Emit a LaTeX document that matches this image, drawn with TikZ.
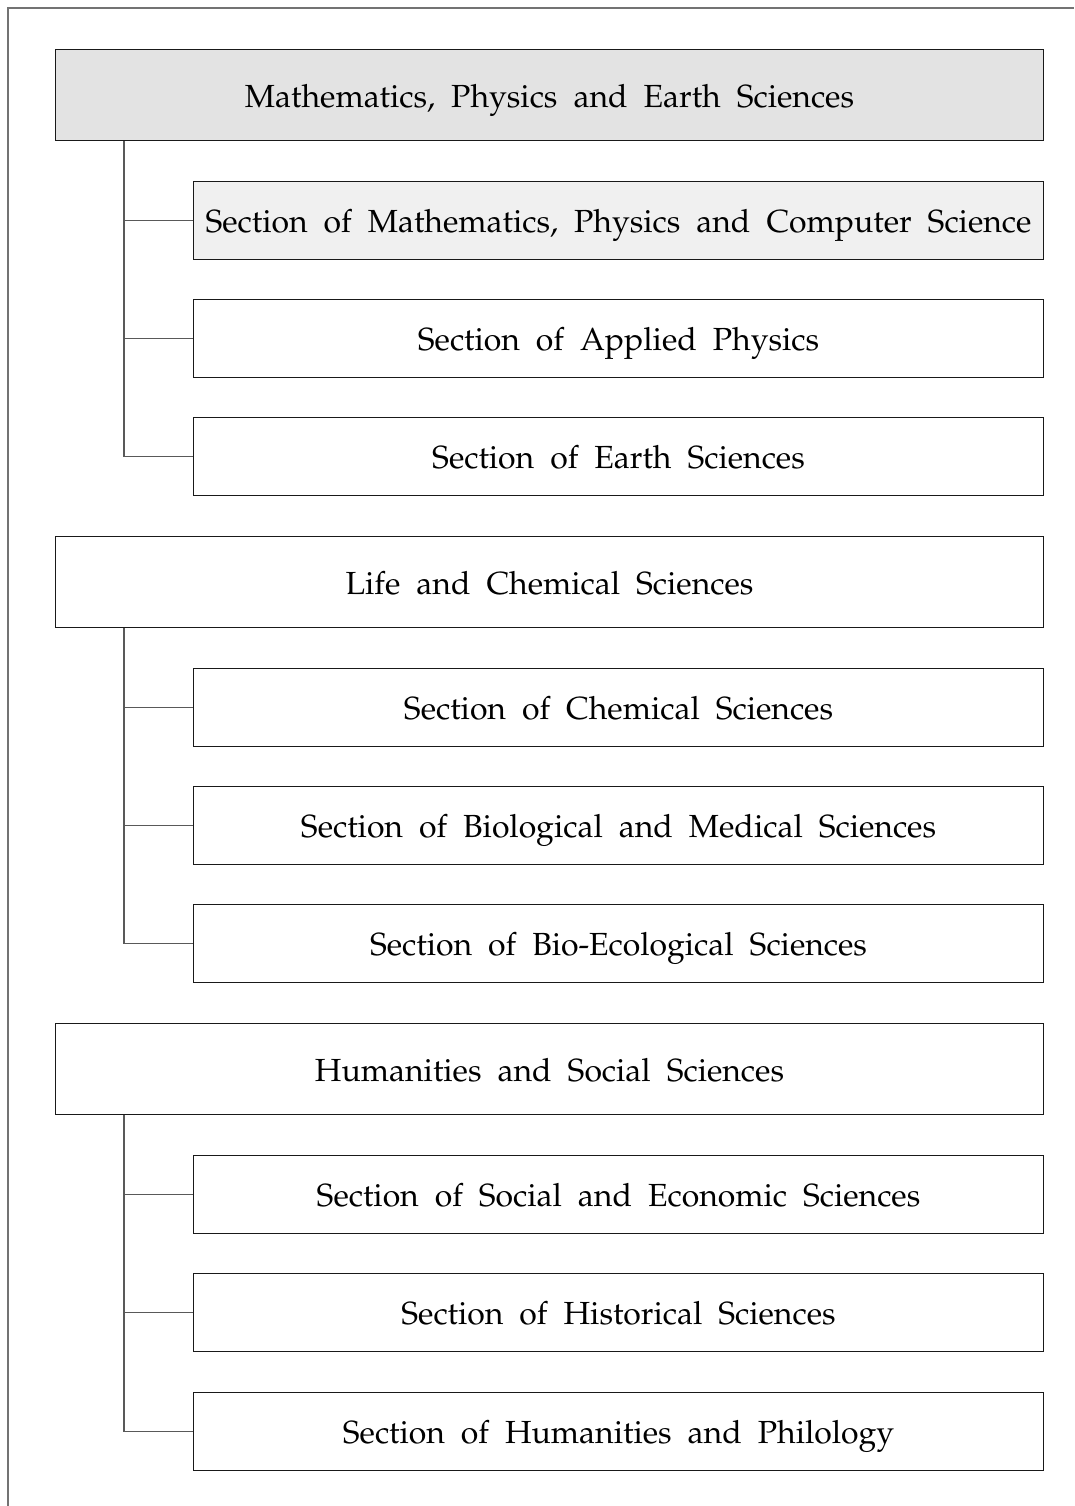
\documentclass[tikz,border=0pt]{standalone}
\usepackage[T1]{fontenc}
\usepackage{mathpazo}
\newcommand\boxlabelfont{\fontsize{18.2}{21}\selectfont\spaceskip 0.5em\relax}
\begin{document}
\begin{tikzpicture}[x=0.02cm,y=-0.02cm,
  boxtext/.style={font={\boxlabelfont}, text height=14pt, text depth=0pt},
  group/.style={draw=black!90, line width=0.7pt, fill=white, anchor=north west,
    minimum width=19.76cm, minimum height=1.82cm, inner sep=0pt, boxtext},
  sect/.style={draw=black!90, line width=0.7pt, fill=white, anchor=north west,
    minimum width=17cm, minimum height=1.56cm, inner sep=0pt, boxtext},
  link/.style={draw=black!65, line width=0.6pt}]
\useasboundingbox (0,0) rectangle (1074,1506);
% page frame
\draw[black!55, line width=0.8pt] (8,1506) -- (8,8) -- (1074,8);

% first group
\node[group, fill=black!11] (g1) at (55,49) {Mathematics, Physics and Earth Sciences};
\node[sect, fill=black!6] (s11) at (193,181) {Section of Mathematics, Physics and Computer Science};
\node[sect] (s12) at (193,299) {Section of Applied Physics};
\node[sect] (s13) at (193,417) {Section of Earth Sciences};

% second group
\node[group] (g2) at (55,536) {Life and Chemical Sciences};
\node[sect] (s21) at (193,668) {Section of Chemical Sciences};
\node[sect] (s22) at (193,786) {Section of Biological and Medical Sciences};
\node[sect] (s23) at (193,904) {Section of Bio-Ecological Sciences};

% third group
\node[group] (g3) at (55,1023) {Humanities and Social Sciences};
\node[sect] (s31) at (193,1155) {Section of Social and Economic Sciences};
\node[sect] (s32) at (193,1273) {Section of Historical Sciences};
\node[sect] (s33) at (193,1392) {Section of Humanities and Philology};

% tree connectors
\foreach \g in {1,2,3}{
  \coordinate (t\g) at ([xshift=1.38cm]g\g.south west);
  \draw[link] (t\g) |- (s\g3.west);
  \draw[link] (s\g1.west) -- (s\g1.west -| t\g);
  \draw[link] (s\g2.west) -- (s\g2.west -| t\g);
}
\end{tikzpicture}
\end{document}
